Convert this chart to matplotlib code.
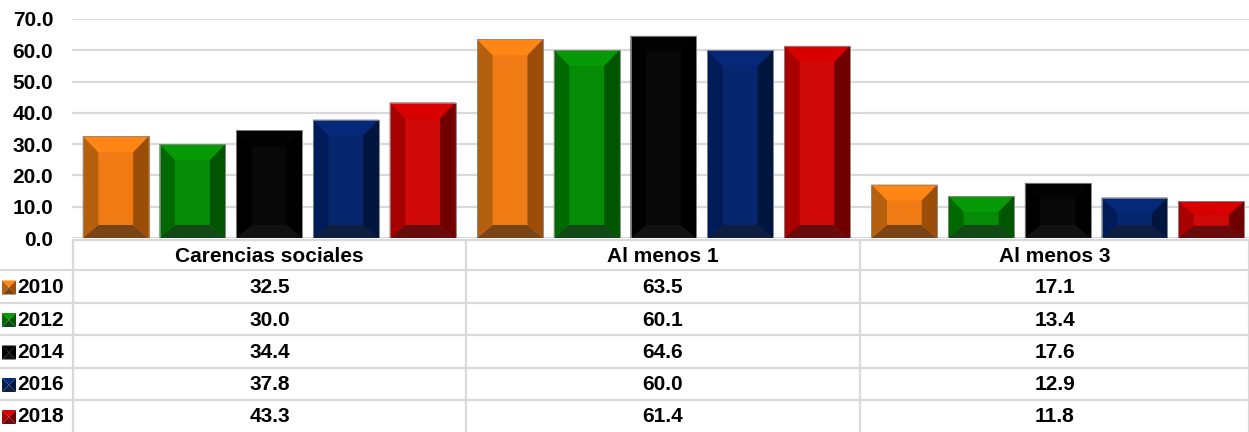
import matplotlib
matplotlib.use("Agg")
import matplotlib.pyplot as plt
from matplotlib.patches import Polygon, Rectangle
from matplotlib.lines import Line2D

plt.rcParams['font.family'] = ['Liberation Sans', 'DejaVu Sans']

categories = ["Carencias sociales", "Al menos 1", "Al menos 3"]
years = ["2010", "2012", "2014", "2016", "2018"]
v2010 = [32.5, 63.5, 17.1]
v2012 = [30.0, 60.1, 13.4]
v2014 = [34.4, 64.6, 17.6]
v2016 = [37.8, 60.0, 12.9]
v2018 = [43.3, 61.4, 11.8]
series = [v2010, v2012, v2014, v2016, v2018]
yticks = [0, 10, 20, 30, 40, 50, 60, 70]

# colours: face, top, left, right, bottom
palette = [
    ("#F07A14", "#FF8515", "#B4600F", "#9C4E08", "#7A4416"),
    ("#068C06", "#079A07", "#006A00", "#005600", "#114A14"),
    ("#080808", "#030303", "#000000", "#000000", "#111111"),
    ("#06266E", "#062878", "#001C58", "#00163E", "#0E1D40"),
    ("#CF0808", "#D80000", "#A80000", "#700000", "#6A0B0B"),
]

W, H = 1249, 432
fig = plt.figure(figsize=(W / 100, H / 100), dpi=100)
ax_left, ax_right = 72, 1255
ax_top, ax_bot = 19, 238
ax = fig.add_axes([ax_left / W, 1 - ax_bot / H, (ax_right - ax_left) / W, (ax_bot - ax_top) / H])
ax.set_xlim(-0.5, len(categories) - 0.5)
ax.set_ylim(0, 70)
ax.set_yticks(yticks)
fs = 15
ax.set_yticklabels([f"{t:.1f}" for t in yticks], fontsize=fs, fontweight="bold")
ax.tick_params(axis="y", length=0, pad=13.5)
ax.set_xticks([])
for s in ax.spines.values():
    s.set_visible(False)
ax.grid(axis="y", color="#d9d9d9", linewidth=1.6)
ax.set_axisbelow(True)

pitch = 0.1946
bw = 0.167
px_per_x = (ax_right - ax_left) / 3.0
px_per_y = (ax_bot - ax_top) / 70.0
bev_x = 15.5 / px_per_x

for i, (vals, cols) in enumerate(zip(series, palette)):
    xs = [c + (i - 2) * pitch for c in range(len(categories))]
    bars = ax.bar(xs, vals, width=bw, color=cols[0], edgecolor="#9a9a9a", linewidth=0.5, zorder=2)
    for b in bars:
        x0, y0 = b.get_x(), b.get_y()
        x1, y1 = x0 + b.get_width(), y0 + b.get_height()
        hpx = b.get_height() * px_per_y
        bt = min(16.0, 0.38 * hpx) / px_per_y
        bb = min(13.0, 0.33 * hpx) / px_per_y
        polys = [
            ([(x0, y1), (x1, y1), (x1 - bev_x, y1 - bt), (x0 + bev_x, y1 - bt)], cols[1]),
            ([(x0, y0), (x1, y0), (x1 - bev_x, y0 + bb), (x0 + bev_x, y0 + bb)], cols[4]),
            ([(x0, y0), (x0, y1), (x0 + bev_x, y1 - bt), (x0 + bev_x, y0 + bb)], cols[2]),
            ([(x1, y0), (x1, y1), (x1 - bev_x, y1 - bt), (x1 - bev_x, y0 + bb)], cols[3]),
        ]
        for pts, c in polys:
            ax.add_patch(Polygon(pts, closed=True, facecolor=c, edgecolor="none", zorder=3))
        ax.add_patch(Rectangle((x0, y0), x1 - x0, y1 - y0, fill=False,
                               edgecolor="#8a8a8a", linewidth=0.6, zorder=4))

# ---- data table below the chart (figure pixel coords) ----
def fx(px):
    return px / W

def fy(py):
    return 1 - py / H

grid_col = "#d9d9d9"
lw = 1.6
col_edges = [73, 466, 860, 1249]
row_edges = [240, 270, 303, 335, 368, 400, 432]

fig.add_artist(Line2D([fx(73), fx(1249)], [fy(240), fy(240)], color=grid_col, lw=lw))
for r in row_edges[1:-1]:
    fig.add_artist(Line2D([fx(0), fx(1249)], [fy(r), fy(r)], color=grid_col, lw=lw))
for c in col_edges:
    fig.add_artist(Line2D([fx(c), fx(c)], [fy(240), fy(432)], color=grid_col, lw=lw))

for j, cat in enumerate(categories):
    cx = (col_edges[j] + col_edges[j + 1]) / 2
    fig.text(fx(cx), fy((row_edges[0] + row_edges[1]) / 2 + 1), cat, ha="center", va="center",
             fontsize=fs, fontweight="bold")

for i, (yr, vals, cols) in enumerate(zip(years, series, palette)):
    cy = (row_edges[i + 1] + row_edges[i + 2]) / 2 + 1
    k0, k1 = 2, 16
    ky0, ky1 = cy - 7, cy + 7
    kc = ((k0 + k1) / 2, cy)
    tris = [
        ([(k0, ky0), (k1, ky0), kc], cols[1]),
        ([(k0, ky1), (k1, ky1), kc], cols[4]),
        ([(k0, ky0), (k0, ky1), kc], cols[2]),
        ([(k1, ky0), (k1, ky1), kc], cols[3]),
    ]
    for pts, c in tris:
        fig.add_artist(Polygon([(fx(px), fy(py)) for px, py in pts], closed=True,
                               facecolor=c, edgecolor="none", transform=fig.transFigure))
    fig.text(fx(17.5), fy(cy), yr, ha="left", va="center", fontsize=fs, fontweight="bold")
    for j, v in enumerate(vals):
        cx = (col_edges[j] + col_edges[j + 1]) / 2
        fig.text(fx(cx), fy(cy), f"{v:.1f}", ha="center", va="center",
                 fontsize=fs, fontweight="bold")

fig.savefig("out.png", dpi=100)
